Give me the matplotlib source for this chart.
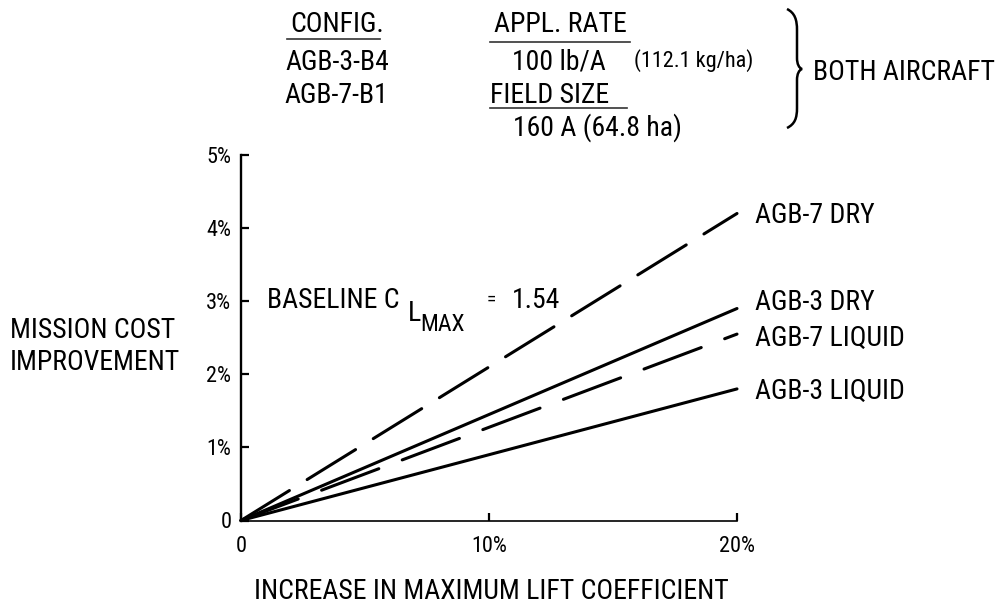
import matplotlib
matplotlib.use('Agg')
import matplotlib.pyplot as plt
from matplotlib import font_manager
from matplotlib.path import Path
from matplotlib.patches import PathPatch
from matplotlib.lines import Line2D

W, H = 1006, 604

# increase in CL max (%) and mission cost improvement (%) at each end
lift_increase = [0, 20]
agb7_dry = [0, 4.2]
agb3_dry = [0, 2.9]
agb7_liquid = [0, 2.55]
agb3_liquid = [0, 1.8]

series_names = ['AGB-7 DRY', 'AGB-3 DRY', 'AGB-7 LIQUID', 'AGB-3 LIQUID']
xticks = [0, 10, 20]
xtick_labels = ['0', '10%', '20%']
yticks = [0, 1, 2, 3, 4, 5]
ytick_labels = ['0', '1%', '2%', '3%', '4%', '5%']


def pick_font():
    names = {f.name for f in font_manager.fontManager.ttflist}
    for fam in ['Roboto Condensed', 'Liberation Sans Narrow', 'Open Sans Condensed',
                'DejaVu Sans Condensed']:
        if fam in names:
            return fam, True
    return 'DejaVu Sans', False


FONT, narrow = pick_font()
FS = 20 if narrow else 14     # labels
TS = 16 if narrow else 12     # tick labels
CAP = 0.71                    # cap height / em
plt.rcParams['font.family'] = [FONT, 'DejaVu Sans']
plt.rcParams['lines.scale_dashes'] = False


def fxy(x, y):
    # pixel position (from top-left) -> figure fraction
    return x / W, 1 - y / H


def cap_text(x, yc, s, size=FS, ha='left'):
    # put the text so that its capitals are centred on pixel row yc
    base = yc + CAP * size * 100 / 72 / 2
    fig.text(*fxy(x, base), s, fontsize=size, ha=ha, va='baseline')


def underline(xa, xb, yy):
    fa, fy = fxy(xa, yy)
    fb, _ = fxy(xb, yy)
    fig.add_artist(Line2D([fa, fb], [fy, fy], color='#333333', lw=1.2))


fig = plt.figure(figsize=(W / 100, H / 100), dpi=100)
x0, y0 = fxy(241, 520.5)
x1, y1 = fxy(737, 155)
ax = fig.add_axes([x0, y0, x1 - x0, y1 - y0])

dry_dash = (0, (41, 15))
liq_dash = (0, (44, 18))
ax.plot(lift_increase, agb7_dry, color='black', lw=2.2, linestyle=dry_dash,
        dash_capstyle='round', clip_on=False)
ax.plot(lift_increase, agb3_dry, color='black', lw=2.2, solid_capstyle='round', clip_on=False)
ax.plot(lift_increase, agb7_liquid, color='black', lw=2.2, linestyle=liq_dash,
        dash_capstyle='round', clip_on=False)
ax.plot(lift_increase, agb3_liquid, color='black', lw=2.2, solid_capstyle='round', clip_on=False)

# labels at the right-hand end of each line
ends = [agb7_dry[-1], agb3_dry[-1], agb7_liquid[-1], agb3_liquid[-1]]
offsets = [-1.5, 4.5, -3, -1.5]
for name, v, dy in zip(series_names, ends, offsets):
    ax.annotate(name, xy=(lift_increase[-1], v), xytext=(13, dy),
                textcoords='offset points', ha='left', va='center', fontsize=FS)

ax.set_xlim(0, 20)
ax.set_ylim(0, 5)
ax.set_xticks(xticks, xtick_labels)
ax.set_yticks(yticks, ytick_labels)
ax.spines['top'].set_visible(False)
ax.spines['right'].set_visible(False)
ax.spines['left'].set_linewidth(1.7)
ax.spines['bottom'].set_linewidth(1.2)
ax.tick_params(axis='both', direction='in', length=6, width=1.6, labelsize=TS)
ax.tick_params(axis='x', pad=11)
ax.tick_params(axis='y', pad=7)
ax.patch.set_alpha(0)

# baseline note inside the plot
cap_text(267, 298, 'BASELINE C')
cap_text(408, 311, 'L')
cap_text(420, 323, 'MAX', size=FS - 3)
cap_text(491, 298, '=', size=FS - 6, ha='center')
cap_text(512, 298, '1.54')

# axis titles
cap_text(10, 328, 'MISSION COST')
cap_text(10, 360, 'IMPROVEMENT')
cap_text(491, 589, 'INCREASE IN MAXIMUM LIFT COEFFICIENT', ha='center')

# header block
cap_text(337, 22, 'CONFIG.', ha='center')
cap_text(337, 60, 'AGB-3-B4', ha='center')
cap_text(336, 93, 'AGB-7-B1', ha='center')
cap_text(494, 22, 'APPL. RATE')
cap_text(512, 60, '100 lb/A')
cap_text(634, 59, '(112.1 kg/ha)', size=FS - 4)
cap_text(490, 93, 'FIELD SIZE')
cap_text(513, 126, '160 A (64.8 ha)')
cap_text(813, 70, 'BOTH AIRCRAFT')

underline(287, 380, 39)
underline(490, 630, 42)
underline(490, 627, 108)

# curly brace grouping the header
brace_px = [(787, 9), (795, 13), (797, 20), (797, 30),
            (797, 58),
            (797, 64), (799, 68), (802, 69),
            (799, 70), (797, 74), (797, 80),
            (797, 108),
            (797, 118), (795, 124), (787, 128)]
codes = [Path.MOVETO, Path.CURVE4, Path.CURVE4, Path.CURVE4,
         Path.LINETO,
         Path.CURVE4, Path.CURVE4, Path.CURVE4,
         Path.CURVE4, Path.CURVE4, Path.CURVE4,
         Path.LINETO,
         Path.CURVE4, Path.CURVE4, Path.CURVE4]
brace = Path([fxy(x, y) for x, y in brace_px], codes)
fig.add_artist(PathPatch(brace, fill=False, lw=1.8, edgecolor='black',
                         transform=fig.transFigure))

fig.savefig('out.png', dpi=100)
